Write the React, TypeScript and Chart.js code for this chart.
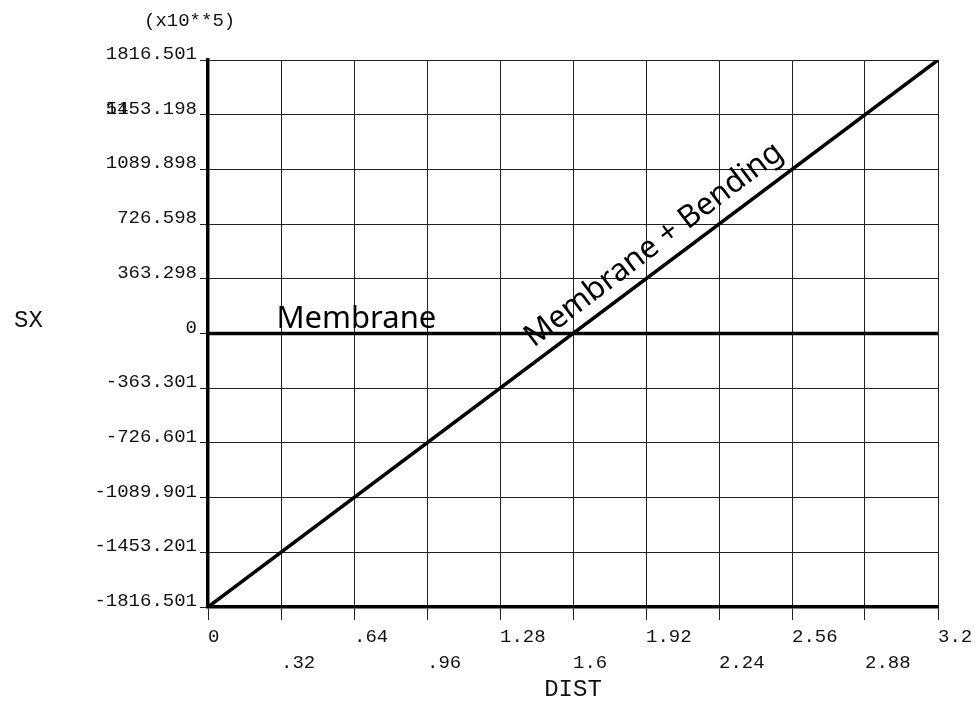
import React, { useEffect, useRef } from 'react';
import { Chart, registerables } from 'chart.js';

Chart.register(...registerables);

// ---- data ----
const distances = [0, 3.2];
const membraneBendingSX = [-1816.501, 1816.501];
const membraneSX = [0, 0];

const xTickValues = [0, 0.32, 0.64, 0.96, 1.28, 1.6, 1.92, 2.24, 2.56, 2.88, 3.2];
const xTickLabels = ['0', '.32', '.64', '.96', '1.28', '1.6', '1.92', '2.24', '2.56', '2.88', '3.2'];
const yTickValues = [-1816.501, -1453.201, -1089.901, -726.601, -363.301, 0, 363.298, 726.598, 1089.898, 1453.198, 1816.501];
const yTickLabels = ['-1816.501', '-1453.201', '-1089.901', '-726.601', '-363.301', '0', '363.298', '726.598', '1089.898', '1453.198', '1816.501'];

const xTitle = 'DIST';
const yTitle = 'SX';
const yMultiplier = '(x10**5)';
const membraneLabel = 'Membrane';
const bendingLabel = 'Membrane + Bending';

const MONO = "'Liberation Mono', 'Courier New', monospace";
const SANS = "'Noto Sans', 'Open Sans', sans-serif";

const annotationPlugin = {
  id: 'annotations',
  afterDraw(chart: any) {
    const { ctx } = chart;
    const xs = chart.scales.x;
    const ys = chart.scales.y;
    ctx.save();
    // multiplier label
    ctx.fillStyle = '#111';
    ctx.font = `19px ${MONO}`;
    ctx.textAlign = 'left';
    ctx.textBaseline = 'middle';
    ctx.fillText(yMultiplier, 144, 21);
    // y title (horizontal)
    ctx.font = `24px ${MONO}`;
    ctx.fillText(yTitle, 14, 321);
    // overlapped glitch at 1453.198 label
    ctx.font = `19px ${MONO}`;
    const lbl = yTickLabels[9];
    const w = ctx.measureText(lbl).width;
    const right = chart.chartArea.left - 11;
    ctx.fillText('51', right - w, ys.getPixelForValue(yTickValues[9]) - 6);

    // Membrane label
    ctx.fillStyle = '#000';
    ctx.font = `31px ${SANS}`;
    ctx.textBaseline = 'alphabetic';
    ctx.fillText(membraneLabel, xs.getPixelForValue(0.3), ys.getPixelForValue(0) - 6);

    // Membrane + Bending label along the line
    const x0 = xs.getPixelForValue(distances[0]);
    const y0 = ys.getPixelForValue(membraneBendingSX[0]);
    const x1 = xs.getPixelForValue(distances[1]);
    const y1 = ys.getPixelForValue(membraneBendingSX[1]);
    const theta = Math.atan2(y0 - y1, x1 - x0);
    const t = 1.46 / 3.2;
    const px = x0 + (x1 - x0) * t;
    const py = y0 + (y1 - y0) * t;
    const d = 12;
    const ax = px - Math.sin(theta) * d;
    const ay = py - Math.cos(theta) * d;
    ctx.translate(ax, ay);
    ctx.rotate(-theta - 0.01);
    ctx.fillText(bendingLabel, 0, 0);
    ctx.restore();
  },
};

export default function App() {
  const canvasRef = useRef<HTMLCanvasElement | null>(null);

  useEffect(() => {
    const canvas = canvasRef.current;
    if (!canvas) return;
    const chart = new Chart(canvas, {
      type: 'line',
      data: {
        datasets: [
          {
            label: membraneLabel,
            data: distances.map((x, i) => ({ x, y: membraneSX[i] })),
            borderColor: '#000',
            borderWidth: 3.5,
            pointRadius: 0,
            fill: false,
          },
          {
            label: bendingLabel,
            data: distances.map((x, i) => ({ x, y: membraneBendingSX[i] })),
            borderColor: '#000',
            borderWidth: 3.5,
            pointRadius: 0,
            fill: false,
          },
        ],
      },
      options: {
        animation: false,
        responsive: true,
        maintainAspectRatio: false,
        layout: { padding: { left: 0, top: 60, right: 42, bottom: 0 } },
        plugins: {
          legend: { display: false },
          tooltip: { enabled: false },
        },
        scales: {
          x: {
            type: 'linear',
            min: 0,
            max: 3.2,
            afterBuildTicks: (scale: any) => {
              scale.ticks = xTickValues.map((v) => ({ value: v }));
            },
            afterFit: (scale: any) => {
              scale.height = 95;
            },
            ticks: {
              autoSkip: false,
              maxRotation: 0,
              minRotation: 0,
              align: 'start',
              padding: 4,
              color: '#111',
              font: { family: MONO, size: 19, lineHeight: 1.37 },
              callback: (_v: any, i: number) =>
                i % 2 === 0 ? [xTickLabels[i], ''] : ['', xTickLabels[i]],
            },
            grid: {
              color: '#222',
              lineWidth: 1,
              drawTicks: true,
              tickLength: 13,
            },
            border: { display: true, color: '#000', width: 3.5 },
            title: {
              display: true,
              text: xTitle,
              color: '#111',
              font: { family: MONO, size: 24, lineHeight: 1.0 },
              padding: { top: 1, bottom: 0 },
            },
          },
          y: {
            type: 'linear',
            min: -1816.501,
            max: 1816.501,
            afterBuildTicks: (scale: any) => {
              scale.ticks = yTickValues.map((v) => ({ value: v }));
            },
            afterFit: (scale: any) => {
              scale.width = 208;
            },
            ticks: {
              autoSkip: false,
              padding: 3,
              labelOffset: -6,
              color: '#111',
              font: { family: MONO, size: 19 },
              callback: (_v: any, i: number) => yTickLabels[i],
            },
            grid: {
              color: '#222',
              lineWidth: 1,
              drawTicks: true,
              tickLength: 8,
            },
            border: { display: true, color: '#000', width: 3.5 },
          },
        },
      },
      plugins: [annotationPlugin],
    });
    return () => chart.destroy();
  }, []);

  return (
    <div style={{ position: 'absolute', left: 0, top: 0, width: 980, height: 702, background: '#fff' }}>
      <canvas ref={canvasRef} />
    </div>
  );
}
